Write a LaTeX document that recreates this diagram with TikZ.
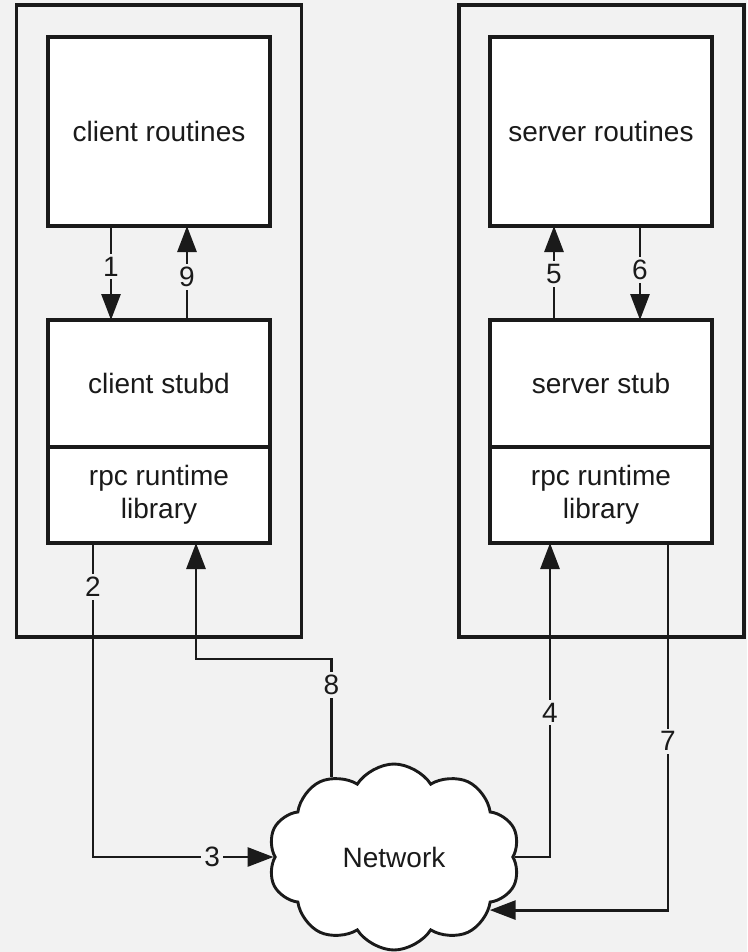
\documentclass[tikz,border=0pt]{standalone}
\usepackage{fontspec}
\setmainfont{Liberation Sans}
\usetikzlibrary{positioning}
\usetikzlibrary{arrows.meta}
\usetikzlibrary{shapes.symbols}
\definecolor{bggray}{HTML}{F2F2F2}
\definecolor{ink}{HTML}{1A1A1A}

\begin{document}
\begin{tikzpicture}[x=1pt, y=-1pt, font=\fontsize{28}{33}\selectfont, text=ink,
    sysbox/.style={draw=ink, line width=3.2pt, minimum width=285pt, minimum height=632pt, outer sep=0pt},
    part/.style={draw=ink, fill=white, line width=3.2pt, minimum width=222pt, outer sep=0pt, align=center},
    conn/.style={draw=ink, line width=2.9pt, -{Triangle[length=26pt, width=19pt]}},
    num/.style={fill=bggray, inner sep=3pt}]
\fill[bggray] (0,0) rectangle (747,952);
\useasboundingbox (0,0) rectangle (747,952);

\path
    node[sysbox] (cliSys) at (159,321) {}
    node[sysbox] (srvSys) at (601.5,321) {};
\path
    node[part, minimum height=189pt] (cliRout) at (159,131.5) {client routines}
    node[part, minimum height=127pt] (cliStub) at (159,383.5) {client stubd}
    node[part, minimum height=96pt, below=0pt of cliStub] (rpcL) {rpc runtime\\library}
    node[part, minimum height=189pt] (srvRout) at (601,131.5) {server routines}
    node[part, minimum height=127pt] (srvStub) at (601,383.5) {server stub}
    node[part, minimum height=96pt, below=0pt of srvStub] (rpcR) {rpc runtime\\library};
\node[cloud, draw=ink, fill=white, line width=2.9pt, cloud puffs=10, cloud puff arc=115, aspect=1.35,
    minimum width=252pt, minimum height=186pt] (net) at (394,857) {Network};
\coordinate (bend8) at (0,659);

\draw[conn] ([xshift=63]cliRout.south west) -- ([xshift=63]cliStub.north west) node[num, pos=.43] {1};
\draw[conn] ([xshift=139]cliStub.north west) -- ([xshift=139]cliRout.south west) node[num, pos=.46] {9};
\draw[conn] ([xshift=64]srvStub.north west) -- ([xshift=64]srvRout.south west) node[num, pos=.49] {5};
\draw[conn] ([xshift=150]srvRout.south west) -- ([xshift=150]srvStub.north west) node[num, pos=.47] {6};

\draw[conn] ([xshift=45]rpcL.south west) |- (net.west) node[num, pos=.07] {2} node[num, pos=.83] {3};
\draw[conn] (net.east) -| ([xshift=60]rpcR.south west) node[num, pos=.73] {4};
\draw[conn] ([xshift=178]rpcR.south west) |- (net.-29) node[num, pos=.27] {7};
\draw[conn] (net.128) -- (net.128 |- bend8) node[num, pos=.78] {8} -| ([xshift=148]rpcL.south west);
\end{tikzpicture}
\end{document}
